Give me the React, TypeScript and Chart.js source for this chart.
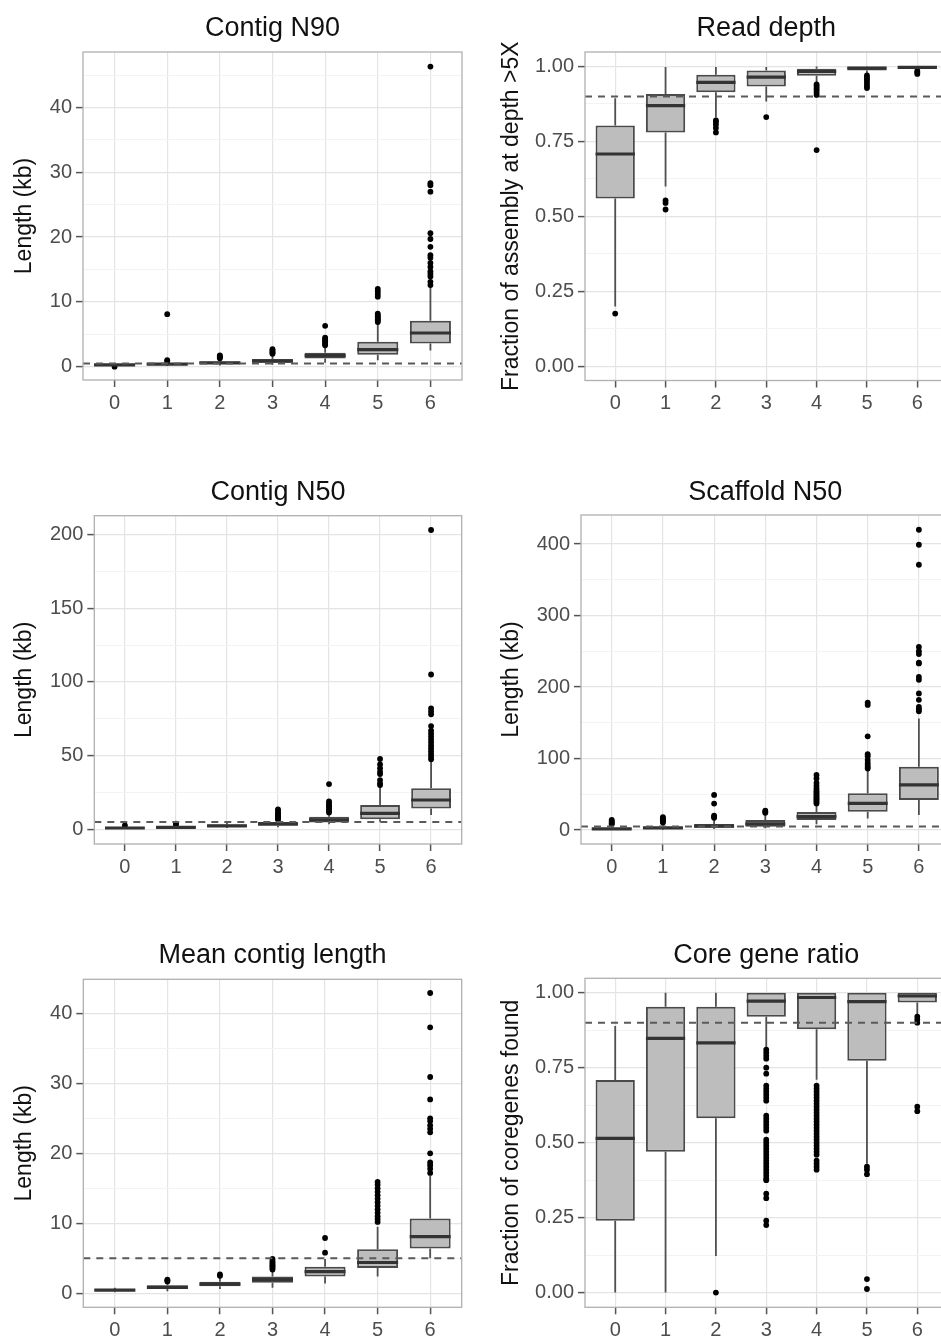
import React, { useEffect, useRef } from 'react';
import { Chart, registerables } from 'chart.js';

Chart.register(...registerables);

// Group labels on the x axis
const CATEGORIES = ['0', '1', '2', '3', '4', '5', '6'];

// Labelled y-axis ticks for each panel
const contigN90Ticks = [0, 10, 20, 30, 40];
const readDepthTicks = [0, 0.25, 0.5, 0.75, 1.0];
const contigN50Ticks = [0, 50, 100, 150, 200];
const scaffoldN50Ticks = [0, 100, 200, 300, 400];
const meanContigTicks = [0, 10, 20, 30, 40];
const coreGeneTicks = [0, 0.25, 0.5, 0.75, 1.0];

// Box statistics per group: [lower whisker, Q1, median, Q3, upper whisker]
const contigN90Stats = [
  [0.1, 0.18, 0.27, 0.38, 0.55],
  [0.1, 0.25, 0.4, 0.55, 0.8],
  [0.2, 0.45, 0.6, 0.8, 1.2],
  [0.3, 0.6, 0.85, 1.2, 1.9],
  [0.6, 1.25, 1.7, 2.15, 3.2],
  [1.0, 1.85, 2.65, 3.85, 6.6],
  [2.5, 3.6, 5.2, 7.1, 12.3],
];
const contigN90Outliers = [
  [0.0],
  [0.9, 1.0, 8.1],
  [1.3, 1.45, 1.6, 1.75],
  [2.0, 2.15, 2.3, 2.5, 2.7],
  [3.3, 3.5, 3.7, 3.9, 4.1, 4.3, 4.5, 6.3],
  [6.9, 7.1, 7.3, 7.5, 7.7, 7.9, 8.2, 10.8, 11.2, 11.6, 12.0],
  [12.6, 13.1, 13.9, 14.3, 14.7, 15.4, 16.0, 16.8, 17.2, 18.5, 19.7, 20.6, 27.0, 28.0, 28.3, 46.3],
];

const readDepthStats = [
  [0.2, 0.56, 0.708, 0.803, 0.894],
  [0.6, 0.78, 0.869, 0.908, 0.998],
  [0.83, 0.914, 0.947, 0.972, 0.998],
  [0.883, 0.933, 0.964, 0.986, 0.998],
  [0.945, 0.969, 0.983, 0.992, 1.0],
  [0.978, 0.986, 0.994, 0.999, 1.0],
  [0.99, 0.993, 0.997, 1.0, 1.0],
];
const readDepthOutliers = [
  [0.176],
  [0.523, 0.545, 0.553],
  [0.78, 0.795, 0.806, 0.815, 0.82],
  [0.831],
  [0.905, 0.912, 0.92, 0.926, 0.933, 0.94, 0.721],
  [0.928, 0.935, 0.942, 0.95, 0.957, 0.963, 0.97],
  [0.975, 0.98, 0.985],
];

const contigN50Stats = [
  [0.2, 0.5, 0.9, 1.4, 2.2],
  [0.4, 0.9, 1.4, 2.0, 3.2],
  [0.9, 1.6, 2.4, 3.3, 4.8],
  [1.5, 2.4, 3.7, 5.0, 6.2],
  [3.5, 4.6, 6.4, 8.5, 11.0],
  [5.2, 6.8, 10.8, 16.5, 29.0],
  [9.7, 14.2, 19.9, 27.8, 46.5],
];
const contigN50Outliers = [
  [2.6],
  [3.5, 3.8],
  [],
  [6.6, 7.2, 8.0, 8.8, 9.6, 10.5, 11.4, 12.5, 13.6],
  [11.5, 12.4, 13.4, 14.5, 15.6, 16.6, 17.8, 19.0, 30.7],
  [30.0, 31.2, 33.4, 37.5, 39.0, 41.4, 44.0, 47.7],
  [47.5, 49, 51, 53, 55, 57, 59, 61, 63, 65, 67, 70, 78, 80, 82, 105, 203],
];

const scaffoldN50Stats = [
  [0.2, 0.8, 1.6, 3.0, 6.5],
  [0.5, 1.5, 3.0, 4.7, 9.0],
  [1.5, 3.0, 5.5, 8.5, 16],
  [2.5, 4.5, 8.5, 14.0, 22],
  [8, 14, 18.6, 25, 35],
  [16, 25.6, 37.3, 51.3, 84],
  [21, 42, 63, 88.6, 156],
];
const scaffoldN50Outliers = [
  [8.0, 9.5, 11.0, 12.5, 14.0],
  [10.5, 12.0, 13.5, 15.0, 16.5, 18.0],
  [17, 18.5, 20, 37, 49],
  [24, 25.5, 27],
  [37, 39, 41, 43, 45, 47, 49, 51, 53, 55, 58, 62, 66, 72, 77],
  [86, 88, 91, 94, 98, 103, 106, 131, 175, 178],
  [166, 169, 172, 182, 191, 210, 214, 233, 234, 246, 250, 256, 371, 399, 420],
];

const meanContigStats = [
  [0.15, 0.3, 0.45, 0.6, 0.8],
  [0.3, 0.6, 0.85, 1.15, 1.6],
  [0.6, 1.0, 1.3, 1.65, 2.2],
  [0.8, 1.5, 1.95, 2.4, 3.3],
  [1.4, 2.4, 3.1, 3.8, 4.9],
  [2.4, 3.6, 4.4, 6.3, 9.5],
  [5.0, 6.4, 8.1, 10.7, 16.8],
];
const meanContigOutliers = [
  [],
  [1.7, 1.85, 1.95],
  [2.5, 2.7],
  [3.4, 3.6, 3.8, 4.0, 4.2, 4.4, 4.6, 4.9],
  [5.8, 7.9],
  [10.2, 10.6, 11.0, 11.5, 12.0, 12.5, 13.0, 13.5, 14.0, 14.5, 15.0, 15.5, 15.9],
  [17.2, 17.8, 18.3, 18.7, 20.0, 23.0, 23.5, 24.0, 24.6, 25.0, 27.7, 30.9, 38.0, 42.9],
];

const coreGeneStats = [
  [0, 0.24, 0.514, 0.709, 0.889],
  [0, 0.47, 0.848, 0.953, 1.0],
  [0.122, 0.581, 0.833, 0.953, 1.0],
  [0.815, 0.92, 0.972, 1.0, 1.0],
  [0.71, 0.878, 0.984, 1.0, 1.0],
  [0.43, 0.773, 0.97, 1.0, 1.0],
  [0.926, 0.967, 0.989, 1.0, 1.0],
];
const coreGeneOutliers = [
  [],
  [],
  [0.0],
  [0.81, 0.8, 0.79, 0.78, 0.75, 0.73, 0.69, 0.68, 0.67, 0.66, 0.65, 0.64, 0.59, 0.58, 0.57, 0.56, 0.55, 0.54,
    0.51, 0.5, 0.49, 0.48, 0.47, 0.46, 0.45, 0.44, 0.43, 0.42, 0.41, 0.4, 0.39, 0.38, 0.375, 0.33, 0.315, 0.24, 0.225],
  [0.69, 0.68, 0.67, 0.66, 0.65, 0.64, 0.63, 0.62, 0.61, 0.6, 0.59, 0.58, 0.57, 0.56, 0.55, 0.54, 0.53, 0.52,
    0.51, 0.5, 0.49, 0.48, 0.47, 0.46, 0.44, 0.43, 0.42, 0.41],
  [0.42, 0.41, 0.395, 0.045, 0.012],
  [0.92, 0.91, 0.9, 0.62, 0.605],
];

// Dashed reference levels
const contigN90Threshold = 0.5;
const readDepthThreshold = 0.9;
const contigN50Threshold = 5;
const scaffoldN50Threshold = 5;
const meanContigThreshold = 5;
const coreGeneThreshold = 0.9;

// Styling
const FONT = '"Liberation Sans", Arial, Helvetica, sans-serif';
const TITLE_SIZE = 27;
const AXIS_TITLE_SIZE = 23;
const TICK_SIZE = 20;
const BOX_FILL = '#bdbdbd';
const BOX_LINE = '#4a4a4a';
const MEDIAN_LINE = '#333333';
const WHISKER_LINE = '#505050';
const DASH_LINE = '#5a5a5a';
const GRID_MAJOR = '#e4e4e4';
const GRID_MINOR = '#f3f3f3';
const PANEL_BORDER = '#b0b0b0';
const TICK_MARK = '#555555';
const TICK_TEXT = '#4d4d4d';

type Rect = { left: number; top: number; width: number; height: number };
type PlotBox = { l: number; t: number; r: number; b: number };

interface PanelSpec {
  title: string;
  yTitle: string;
  stats: number[][];
  outliers: number[][];
  threshold: number;
  ticks: number[];
  decimals: number;
  yMin: number;
  yMax: number;
  frame: Rect;
  plot: PlotBox;
  titleY: number;
  yTitleX: number;
}

const LEFT_FRAME_X = 0;
const RIGHT_FRAME_X = 470;
const LEFT_FRAME_W = 470;
const RIGHT_FRAME_W = 490;

const PANELS: PanelSpec[] = [
  {
    title: 'Contig N90', yTitle: 'Length (kb)',
    stats: contigN90Stats, outliers: contigN90Outliers, threshold: contigN90Threshold,
    ticks: contigN90Ticks, decimals: 0, yMin: -2.05, yMax: 48.55,
    frame: { left: LEFT_FRAME_X, top: 0, width: LEFT_FRAME_W, height: 425 },
    plot: { l: 83, t: 52, r: 462, b: 380 }, titleY: 29, yTitleX: 25,
  },
  {
    title: 'Read depth', yTitle: 'Fraction of assembly at depth >5X',
    stats: readDepthStats, outliers: readDepthOutliers, threshold: readDepthThreshold,
    ticks: readDepthTicks, decimals: 2, yMin: -0.047, yMax: 1.048,
    frame: { left: RIGHT_FRAME_X, top: 0, width: RIGHT_FRAME_W, height: 425 },
    plot: { l: 585, t: 52, r: 947.5, b: 380.5 }, titleY: 29, yTitleX: 511.7,
  },
  {
    title: 'Contig N50', yTitle: 'Length (kb)',
    stats: contigN50Stats, outliers: contigN50Outliers, threshold: contigN50Threshold,
    ticks: contigN50Ticks, decimals: 0, yMin: -9.94, yMax: 212.7,
    frame: { left: LEFT_FRAME_X, top: 462, width: LEFT_FRAME_W, height: 428 },
    plot: { l: 94.3, t: 515.7, r: 461.7, b: 844 }, titleY: 492.5, yTitleX: 25,
  },
  {
    title: 'Scaffold N50', yTitle: 'Length (kb)',
    stats: scaffoldN50Stats, outliers: scaffoldN50Outliers, threshold: scaffoldN50Threshold,
    ticks: scaffoldN50Ticks, decimals: 0, yMin: -19.6, yMax: 440.6,
    frame: { left: RIGHT_FRAME_X, top: 462, width: RIGHT_FRAME_W, height: 428 },
    plot: { l: 581, t: 515, r: 949.6, b: 844 }, titleY: 492.5, yTitleX: 511.7,
  },
  {
    title: 'Mean contig length', yTitle: 'Length (kb)',
    stats: meanContigStats, outliers: meanContigOutliers, threshold: meanContigThreshold,
    ticks: meanContigTicks, decimals: 0, yMin: -2.0, yMax: 44.86,
    frame: { left: LEFT_FRAME_X, top: 925, width: LEFT_FRAME_W, height: 411 },
    plot: { l: 83.3, t: 979.3, r: 461.7, b: 1307.3 }, titleY: 956, yTitleX: 25,
  },
  {
    title: 'Core gene ratio', yTitle: 'Fraction of coregenes found',
    stats: coreGeneStats, outliers: coreGeneOutliers, threshold: coreGeneThreshold,
    ticks: coreGeneTicks, decimals: 2, yMin: -0.049, yMax: 1.048,
    frame: { left: RIGHT_FRAME_X, top: 925, width: RIGHT_FRAME_W, height: 411 },
    plot: { l: 585, t: 978.3, r: 947.5, b: 1307.3 }, titleY: 956, yTitleX: 511.7,
  },
];

// Labelled ticks plus unlabelled minor ticks halfway between them
function withMinorTicks(major: number[], lo: number, hi: number): number[] {
  const step = major[1] - major[0];
  const out: number[] = [];
  const first = major[0] - step;
  const last = major[major.length - 1] + step;
  for (let v = first; v <= last + 1e-9; v += step / 2) {
    const r = Math.round(v * 1e6) / 1e6;
    if (r >= lo && r <= hi) out.push(r);
  }
  return out;
}

// Whiskers, medians, the dashed reference line and the panel frame,
// all placed through the chart's own scales.
const boxDecor = {
  id: 'boxDecor',
  beforeDatasetsDraw(chart: any) {
    const { ctx, chartArea } = chart;
    const y = chart.scales.y;
    const meta = chart.getDatasetMeta(0);
    const stats: number[][] = chart.data.datasets[0].stats;
    ctx.save();
    ctx.beginPath();
    ctx.rect(chartArea.left, chartArea.top, chartArea.width, chartArea.height);
    ctx.clip();
    ctx.strokeStyle = WHISKER_LINE;
    ctx.lineWidth = 1.8;
    meta.data.forEach((bar: any, i: number) => {
      const s = stats[i];
      ctx.beginPath();
      ctx.moveTo(bar.x, y.getPixelForValue(s[3]));
      ctx.lineTo(bar.x, y.getPixelForValue(s[4]));
      ctx.moveTo(bar.x, y.getPixelForValue(s[1]));
      ctx.lineTo(bar.x, y.getPixelForValue(s[0]));
      ctx.stroke();
    });
    ctx.restore();
  },
  afterDatasetsDraw(chart: any, _args: any, opts: any) {
    const { ctx, chartArea } = chart;
    const y = chart.scales.y;
    const meta = chart.getDatasetMeta(0);
    const stats: number[][] = chart.data.datasets[0].stats;
    ctx.save();
    ctx.beginPath();
    ctx.rect(chartArea.left, chartArea.top, chartArea.width, chartArea.height);
    ctx.clip();
    ctx.strokeStyle = MEDIAN_LINE;
    ctx.lineWidth = 3.2;
    meta.data.forEach((bar: any, i: number) => {
      const py = y.getPixelForValue(stats[i][2]);
      ctx.beginPath();
      ctx.moveTo(bar.x - bar.width / 2, py);
      ctx.lineTo(bar.x + bar.width / 2, py);
      ctx.stroke();
    });
    const ty = y.getPixelForValue(opts.threshold);
    ctx.strokeStyle = DASH_LINE;
    ctx.lineWidth = 2;
    ctx.setLineDash([7, 6]);
    ctx.beginPath();
    ctx.moveTo(chartArea.left, ty);
    ctx.lineTo(chartArea.right, ty);
    ctx.stroke();
    ctx.restore();

    ctx.save();
    ctx.strokeStyle = PANEL_BORDER;
    ctx.lineWidth = 1.3;
    ctx.strokeRect(chartArea.left, chartArea.top, chartArea.width, chartArea.height);
    ctx.restore();
  },
};

function BoxPanel({ spec }: { spec: PanelSpec }) {
  const ref = useRef<HTMLCanvasElement>(null);

  useEffect(() => {
    const canvas = ref.current;
    if (!canvas) return;
    const f = spec.frame;
    const p = spec.plot;
    const titleLH = TITLE_SIZE * 1.2;
    const titlePadTop = spec.titleY - f.top - titleLH / 2;
    const titlePadBottom = p.t - f.top - titlePadTop - titleLH;
    const yTitleLH = AXIS_TITLE_SIZE * 1.2;
    const yTitlePad = spec.yTitleX - f.left - yTitleLH / 2;
    const yAxisWidth = p.l - f.left;
    const xAxisHeight = f.top + f.height - p.b;
    const rightPad = f.left + f.width - p.r;
    const yTickValues = withMinorTicks(spec.ticks, spec.yMin, spec.yMax);
    const isMajor = (v: number) => spec.ticks.some((t) => Math.abs(t - v) < 1e-9);

    const chart = new Chart(canvas, {
      type: 'bar',
      data: {
        datasets: [
          {
            type: 'bar',
            label: 'box',
            data: spec.stats.map((s, i) => ({ x: i, y: [s[1], s[3]] })),
            stats: spec.stats,
            backgroundColor: BOX_FILL,
            borderColor: BOX_LINE,
            borderWidth: 2,
            borderSkipped: false,
            barPercentage: 0.78,
            categoryPercentage: 1,
            order: 0,
          } as any,
          {
            type: 'scatter',
            label: 'outliers',
            data: spec.outliers.flatMap((vals, i) => vals.map((v) => ({ x: i, y: v }))),
            pointRadius: 2.9,
            pointBackgroundColor: '#000000',
            pointBorderWidth: 0,
            order: 1,
          } as any,
        ],
      },
      options: {
        responsive: false,
        animation: false,
        events: [],
        layout: { padding: { left: 0, top: 0, right: rightPad, bottom: 0 } },
        plugins: {
          legend: { display: false },
          tooltip: { enabled: false },
          title: {
            display: true,
            text: spec.title,
            fullSize: false,
            color: '#111111',
            font: { family: FONT, size: TITLE_SIZE, weight: 'normal', lineHeight: 1.2 },
            padding: { top: titlePadTop, bottom: titlePadBottom },
          },
          boxDecor: { threshold: spec.threshold },
        } as any,
        scales: {
          x: {
            type: 'linear',
            min: -0.6,
            max: 6.6,
            bounds: 'data',
            offset: false,
            afterBuildTicks: (s: any) => {
              s.ticks = CATEGORIES.map((_, i) => ({ value: i }));
            },
            grid: {
              color: GRID_MAJOR,
              lineWidth: 1.2,
              offset: false,
              drawTicks: true,
              tickLength: 7,
              tickWidth: 1.5,
              tickColor: TICK_MARK,
            },
            border: { display: false },
            ticks: {
              autoSkip: false,
              maxRotation: 0,
              padding: 4,
              color: TICK_TEXT,
              font: { family: FONT, size: TICK_SIZE, lineHeight: 1.2 },
              callback: (v: any) => CATEGORIES[Math.round(Number(v))] ?? '',
            },
            afterFit: (s: any) => {
              s.height = xAxisHeight;
            },
          } as any,
          y: {
            type: 'linear',
            min: spec.yMin,
            max: spec.yMax,
            bounds: 'data',
            afterBuildTicks: (s: any) => {
              s.ticks = yTickValues.map((v) => ({ value: v }));
            },
            grid: {
              color: (c: any) => (c.tick && isMajor(c.tick.value) ? GRID_MAJOR : GRID_MINOR),
              lineWidth: (c: any) => (c.tick && isMajor(c.tick.value) ? 1.2 : 1),
              drawTicks: true,
              tickLength: 7,
              tickWidth: 1.5,
              tickColor: (c: any) => (c.tick && isMajor(c.tick.value) ? TICK_MARK : 'rgba(0,0,0,0)'),
            },
            border: { display: false },
            ticks: {
              autoSkip: false,
              padding: 4,
              color: TICK_TEXT,
              font: { family: FONT, size: TICK_SIZE, lineHeight: 1.2 },
              callback: (v: any) => (isMajor(Number(v)) ? Number(v).toFixed(spec.decimals) : ''),
            },
            title: {
              display: true,
              text: spec.yTitle,
              color: '#111111',
              font: { family: FONT, size: AXIS_TITLE_SIZE, lineHeight: 1.2 },
              padding: { top: yTitlePad, bottom: 0 },
            },
            afterFit: (s: any) => {
              s.width = yAxisWidth;
            },
          } as any,
        },
      },
      plugins: [boxDecor],
    });

    return () => chart.destroy();
  }, [spec]);

  const f = spec.frame;
  return (
    <canvas
      ref={ref}
      width={f.width}
      height={f.height}
      style={{ position: 'absolute', left: f.left, top: f.top, width: f.width, height: f.height }}
    />
  );
}

export default function App() {
  return (
    <div
      style={{
        position: 'absolute',
        left: 0,
        top: 0,
        width: 941,
        height: 1336,
        overflow: 'hidden',
        background: '#ffffff',
      }}
    >
      {PANELS.map((p) => (
        <BoxPanel key={p.title} spec={p} />
      ))}
    </div>
  );
}
